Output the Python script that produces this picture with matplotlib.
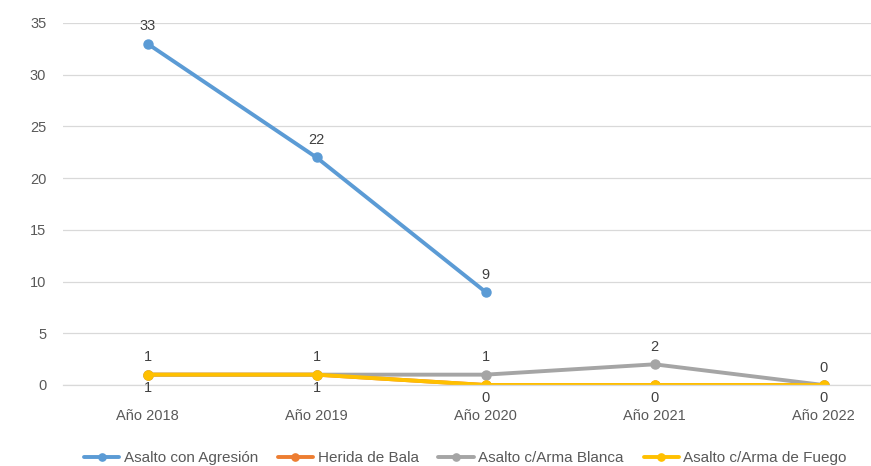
import matplotlib.pyplot as plt

# Data
years = ['Año 2018', 'Año 2019', 'Año 2020', 'Año 2021', 'Año 2022']
agresion = [33, 22, 9, None, None]
herida_bala = [1, 1, 0, 0, 0]
arma_blanca = [1, 1, 1, 2, 0]
arma_fuego = [1, 1, 0, 0, 0]

plt.rcParams['font.family'] = ['Liberation Sans', 'DejaVu Sans']

text_col = '#595959'
fig = plt.figure(figsize=(8.71, 4.66), dpi=100)
# axes run a bit past the right edge, like the cropped original
ax = fig.add_axes([63 / 871, 81 / 466, 845 / 871, 362 / 466])

x = list(range(len(years)))
series = [
    ('Asalto con Agresión', agresion, '#5B9BD5', 1),
    ('Herida de Bala', herida_bala, '#ED7D31', 0),
    ('Asalto c/Arma Blanca', arma_blanca, '#A5A5A5', 1),
    ('Asalto c/Arma de Fuego', arma_fuego, '#FFC000', -1),
]

for name, vals, col, lab in series:
    xs = [i for i, v in zip(x, vals) if v is not None]
    ys = [v for v in vals if v is not None]
    ax.plot(xs, ys, color=col, lw=2.8, marker='o', ms=6.5, label=name,
            solid_capstyle='round')
    if lab != 0:
        off = 12.5 if lab > 0 else -9.5
        for xi, yi in zip(xs, ys):
            ax.annotate(str(yi), (xi, yi), xytext=(0, off),
                        textcoords='offset points', ha='center', va='center',
                        fontsize=10.5, color='#404040')

ax.set_xlim(-0.5, len(years) - 0.5)
ax.set_ylim(0, 35)
ax.set_yticks(range(0, 36, 5))
ax.set_xticks(x)
ax.set_xticklabels(years)
ax.grid(axis='y', color='#D9D9D9', lw=0.9)
ax.set_axisbelow(True)
for s in ax.spines.values():
    s.set_visible(False)
ax.spines['bottom'].set_visible(True)
ax.spines['bottom'].set_color('#D9D9D9')
ax.spines['bottom'].set_linewidth(0.9)
ax.tick_params(length=0, colors=text_col, labelsize=10.5)
ax.tick_params(axis='y', pad=12)
ax.tick_params(axis='x', pad=17)

fig.legend(loc='center left', bbox_to_anchor=(84 / 871, 8 / 466), ncol=4,
           frameon=False, fontsize=11, labelcolor=text_col,
           handlelength=2.3, handletextpad=0.3, columnspacing=1.3,
           markerscale=0.8, borderaxespad=0, borderpad=0)

fig.savefig('out.png', dpi=100)
